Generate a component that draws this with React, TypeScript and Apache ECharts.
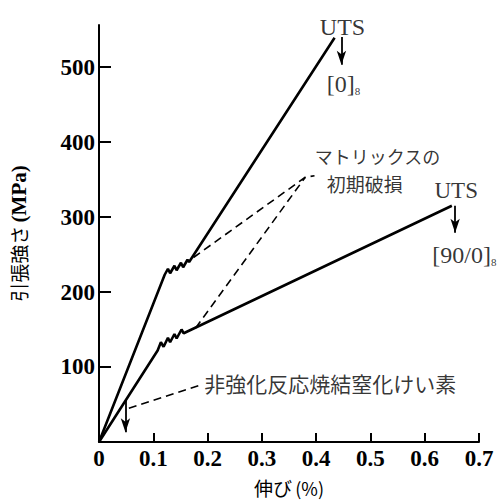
import React, { useEffect, useRef } from "react";
import * as echarts from "echarts";

// ---- data (strain %, stress MPa) ----
const xTickValues = [0, 0.1, 0.2, 0.3, 0.4, 0.5, 0.6, 0.7];
const yTickValues = [100, 200, 300, 400, 500];

const curve0: number[][] = [
  [0, 0], [0.121, 223], [0.127, 231], [0.131, 225], [0.139, 235], [0.143, 229],
  [0.151, 239], [0.155, 233], [0.163, 243], [0.166, 240], [0.434, 539],
];
const curve90: number[][] = [
  [0, 0], [0.108, 122], [0.114, 133], [0.119, 127], [0.127, 139], [0.131, 133],
  [0.139, 144], [0.143, 138], [0.152, 150], [0.156, 145], [0.65, 315],
];
const leaderMatrixUpper: number[][] = [[0.174, 246], [0.38, 353], [0.397, 355]];
const leaderMatrixLower: number[][] = [[0.178, 152], [0.38, 353]];
const leaderNonReinforced: number[][] = [[0.055, 45], [0.191, 77]];

const arrowUTS0: number[][] = [[0.4466, 540], [0.4466, 503]];
const arrowUTS90: number[][] = [[0.656, 315], [0.656, 279]];
const arrowNonReinforced: number[][] = [[0.0487, 55], [0.0487, 13]];

const labelUTS = "UTS";
const label0 = "[0]";
const label90 = "[90/0]";
const labelSub = "8";
const labelMatrix1 = "マトリックスの";
const labelMatrix2 = "初期破損";
const labelNonReinforced = "非強化反応焼結窒化けい素";

const SERIF = "'Liberation Serif', 'DejaVu Serif', serif";
const CJK = "'Noto Sans CJK JP', 'Noto Sans', sans-serif";

export default function App() {
  const ref = useRef<HTMLDivElement>(null);
  useEffect(() => {
    if (!ref.current) return;
    const chart = echarts.init(ref.current, undefined, { renderer: "svg" });
    const solid = { color: "#000", width: 2.6 };
    const dashed = { color: "#000", width: 1.6, type: [8, 5] as number[] };
    const arrowLine = (pts: number[][]) => [
      { coord: pts[0], symbol: "none" },
      { coord: pts[1], symbol: "arrow", symbolSize: [7, 14] },
    ];
    const txt = (x: number, y: number, formatter: string, extra: any = {}) => ({
      value: [x, y],
      label: { show: true, formatter, position: "inside", color: "#000", ...extra },
    });
    const serifRich = {
      m: { fontFamily: SERIF, fontSize: 24, color: "#000", lineHeight: 24, verticalAlign: "bottom" },
      s: { fontFamily: SERIF, fontSize: 11, color: "#000", lineHeight: 30, verticalAlign: "bottom" },
    };
    chart.setOption({
      animation: false,
      backgroundColor: "#fff",
      grid: { left: 95, right: 21, top: 25, bottom: 55 },
      xAxis: {
        type: "value",
        min: 0,
        max: 0.7,
        interval: 0.1,
        name: "{c|伸び} {p|(%)}",
        nameLocation: "middle",
        nameGap: 36,
        nameTextStyle: {
          rich: {
            c: { fontFamily: CJK, fontSize: 19, color: "#000" },
            p: { fontFamily: CJK, fontSize: 18, color: "#000" },
          },
        },
        axisLine: { show: true, lineStyle: { color: "#000", width: 2 } },
        axisTick: { show: true, inside: true, length: 9, lineStyle: { color: "#000", width: 2 }, customValues: xTickValues },
        axisLabel: {
          margin: 5,
          color: "#000",
          fontFamily: SERIF,
          fontWeight: "bold",
          fontSize: 23,
          customValues: xTickValues,
          formatter: (v: number) => (v === 0 ? "0" : v.toFixed(1)),
        },
        splitLine: { show: false },
      },
      yAxis: {
        type: "value",
        min: 0,
        max: 556,
        interval: 100,
        name: "{c|引張強さ} {m|(MPa)}",
        nameLocation: "middle",
        nameRotate: 90,
        nameGap: 70,
        nameTextStyle: {
          rich: {
            c: { fontFamily: CJK, fontSize: 19, color: "#000" },
            m: { fontFamily: SERIF, fontSize: 21, fontWeight: "bold", color: "#000" },
          },
        },
        axisLine: { show: true, lineStyle: { color: "#000", width: 2 } },
        axisTick: { show: true, inside: true, length: 12, lineStyle: { color: "#000", width: 2 }, customValues: yTickValues },
        axisLabel: {
          margin: 4,
          color: "#000",
          fontFamily: SERIF,
          fontWeight: "bold",
          fontSize: 23,
          customValues: yTickValues,
        },
        splitLine: { show: false },
      },
      series: [
        {
          type: "line",
          data: curve0,
          symbol: "none",
          lineStyle: solid,
          silent: true,
          markLine: {
            silent: true,
            animation: false,
            label: { show: false },
            lineStyle: { color: "#000", width: 1.8, type: "solid" },
            symbol: ["none", "arrow"],
            symbolSize: [7, 14],
            data: [arrowLine(arrowUTS0), arrowLine(arrowUTS90), arrowLine(arrowNonReinforced)],
          },
        },
        { type: "line", data: curve90, symbol: "none", lineStyle: solid, silent: true },
        { type: "line", data: leaderMatrixUpper, symbol: "none", lineStyle: dashed, silent: true },
        { type: "line", data: leaderMatrixLower, symbol: "none", lineStyle: dashed, silent: true },
        { type: "line", data: leaderNonReinforced, symbol: "none", lineStyle: dashed, silent: true },
        {
          type: "scatter",
          symbolSize: 0,
          silent: true,
          data: [
            txt(0.4485, 553, labelUTS, { fontFamily: SERIF, fontSize: 24 }),
            txt(0.658, 335, labelUTS, { fontFamily: SERIF, fontSize: 23 }),
            txt(0.4505, 481, `{m|${label0}}{s|${labelSub}}`, { rich: serifRich }),
            txt(0.673, 253, `{m|${label90}}{s|${labelSub}}`, { rich: serifRich }),
            txt(0.513, 382, labelMatrix1, { fontFamily: CJK, fontSize: 18, lineHeight: 18 }),
            txt(0.4895, 345, labelMatrix2, { fontFamily: CJK, fontSize: 19, lineHeight: 19 }),
            txt(0.192, 79, labelNonReinforced, { fontFamily: CJK, fontSize: 21, position: "right", distance: 1 }),
          ],
        },
      ],
    });
    return () => chart.dispose();
  }, []);
  return (
    <div
      ref={ref}
      style={{ position: "fixed", left: 0, top: 0, width: 500, height: 502, background: "#fff" }}
    />
  );
}
